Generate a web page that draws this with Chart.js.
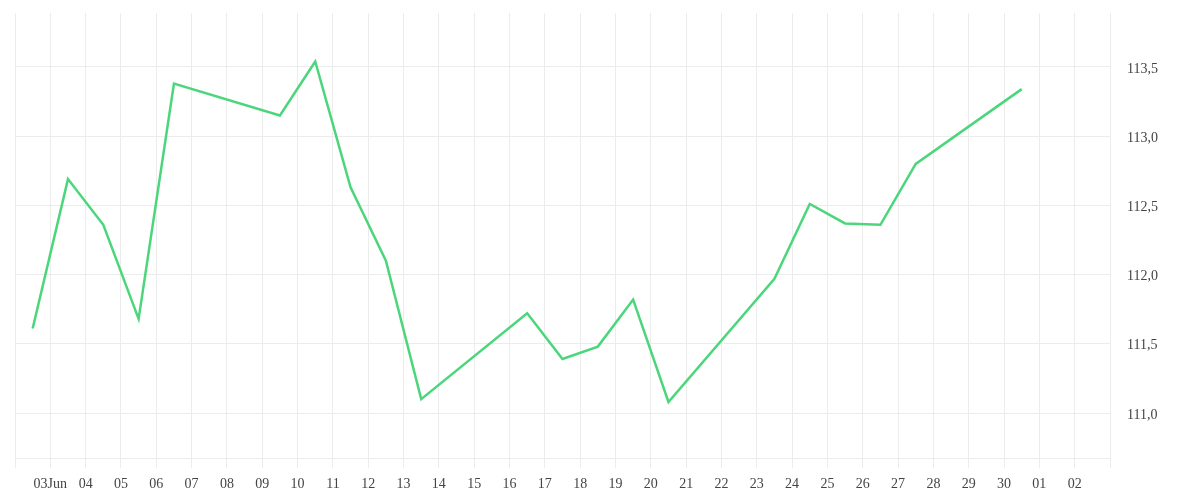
<!DOCTYPE html>
<html>
<head>
<meta charset="utf-8">
<script src="https://cdn.jsdelivr.net/npm/chart.js@4.4.1/dist/chart.umd.min.js"></script>
<style>
  html, body { margin: 0; padding: 0; background: #fff; }
  #wrap { width: 1200px; height: 500px; position: relative; }
</style>
</head>
<body>
<div id="wrap"><canvas id="chart"></canvas></div>
<script>
// trading days, June 2025 (31 = Jul 1, 32 = Jul 2)
const days = [2, 3, 4, 5, 6, 9, 10, 11, 12, 13, 16, 17, 18, 19, 20, 23, 24, 25, 26, 27, 30];
const closes = [111.61, 112.69, 112.36, 111.68, 113.38, 113.15, 113.54, 112.63, 112.10, 111.10,
                111.72, 111.39, 111.48, 111.82, 111.08, 111.97, 112.51, 112.37, 112.36, 112.80, 113.34];
// tick labels by day number
const tickLabels = {3: '03Jun', 31: '01', 32: '02'};

const ctx = document.getElementById('chart').getContext('2d');

// each close sits in the middle of its day
const points = days.map((d, i) => ({x: d + 0.5, y: closes[i]}));

const font = {family: "'Liberation Serif', serif", size: 14};

new Chart(ctx, {
    type: 'line',
    data: {
        datasets: [{
            data: points,
            borderColor: '#4cd67c',
            borderWidth: 2.5,
            pointRadius: 0,
            tension: 0,
            fill: false
        }]
    },
    options: {
        responsive: true,
        maintainAspectRatio: false,
        animation: false,
        layout: {padding: {left: 15, top: 13, right: 0, bottom: 0}},
        plugins: {legend: {display: false}, tooltip: {enabled: false}},
        scales: {
            x: {
                type: 'linear',
                min: 2,
                max: 33,
                grid: {color: '#ececec', tickLength: 10},
                border: {color: '#ececec'},
                ticks: {
                    stepSize: 1,
                    autoSkip: false,
                    maxRotation: 0,
                    padding: 8,
                    color: '#444',
                    font: font,
                    callback: v => {
                        if (v <= 2 || v >= 33) return '';
                        if (tickLabels[v]) return tickLabels[v];
                        return String(v).padStart(2, '0');
                    }
                },
                afterFit: s => { s.height = 42; }
            },
            y: {
                position: 'right',
                min: 110.675,
                max: 113.89,
                // invisible tick marks push the labels off the plot edge
                grid: {color: '#ececec', tickLength: 14, tickColor: 'rgba(0,0,0,0)'},
                border: {color: '#ececec'},
                ticks: {
                    stepSize: 0.5,
                    padding: 3,
                    labelOffset: 2,
                    color: '#444',
                    font: font,
                    callback: v => v.toFixed(1).replace('.', ',')
                },
                afterBuildTicks: s => {
                    s.ticks = s.ticks.filter(t => Math.abs(t.value * 2 - Math.round(t.value * 2)) < 1e-6);
                },
                afterFit: s => { s.width = 90; }
            }
        }
    }
});
</script>
</body>
</html>
